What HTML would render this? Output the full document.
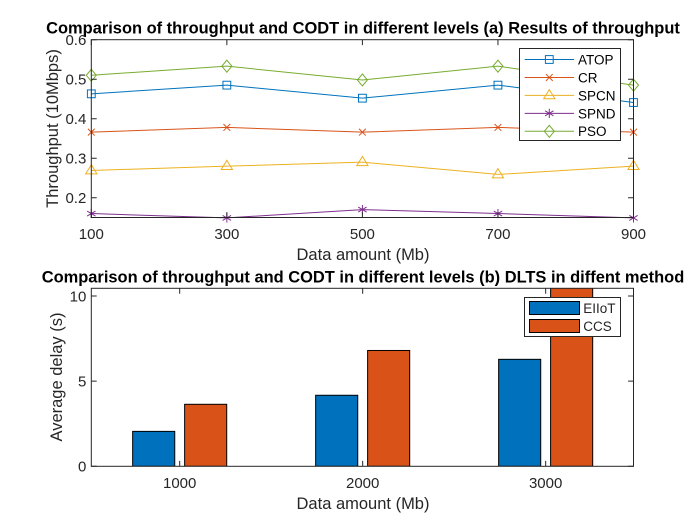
<!DOCTYPE html>
<html lang="en">
<head>
<meta charset="utf-8">
<title>Comparison of throughput and CODT</title>
<style>
html,body{margin:0;padding:0;background:#fff;}
body{width:700px;height:525px;overflow:hidden;}
svg{display:block;font-family:"Liberation Sans",Arial,sans-serif;}
</style>
</head>
<body>
<svg id="figure" xmlns="http://www.w3.org/2000/svg" width="700" height="525" viewBox="0 0 700 525">
  <defs>
    <clipPath id="bar-clip"><rect x="91.3" y="288.3" width="542.2" height="178"></rect></clipPath>
  </defs>
  <rect x="0" y="0" width="700" height="525" fill="#fff"></rect>
  <text x="363" y="33.5" text-anchor="middle" font-size="16.45" font-weight="bold" fill="#000">Comparison of throughput and CODT in different levels (a) Results of throughput</text>
  <text x="363" y="282.5" text-anchor="middle" font-size="16.45" font-weight="bold" fill="#000">Comparison of throughput and CODT in different levels (b) DLTS in diffent method</text>
  <text x="363" y="260" text-anchor="middle" font-size="16.5" fill="#262626">Data amount (Mb)</text>
  <text x="363" y="509" text-anchor="middle" font-size="16.5" fill="#262626">Data amount (Mb)</text>
  <text transform="translate(58,128.5) rotate(-90)" text-anchor="middle" font-size="16.5" fill="#262626">Throughput (10Mbps)</text>
  <text transform="translate(62,377) rotate(-90)" text-anchor="middle" font-size="16.5" fill="#262626">Average delay (s)</text>
  <g id="line-plot"></g>
  <g id="bar-plot"></g>
</svg>
<script>
var lineCategories = [100, 300, 500, 700, 900];
var lineYTicks = [0.2, 0.3, 0.4, 0.5, 0.6];
var atopValues = [0.463, 0.485, 0.452, 0.485, 0.441];
var crValues = [0.366, 0.378, 0.366, 0.378, 0.366];
var spcnValues = [0.269, 0.28, 0.29, 0.259, 0.28];
var spndValues = [0.16, 0.149, 0.17, 0.16, 0.149];
var psoValues = [0.51, 0.533, 0.498, 0.533, 0.485];
var lineSeriesNames = ['ATOP', 'CR', 'SPCN', 'SPND', 'PSO'];

var barCategories = [1000, 2000, 3000];
var barYTicks = [0, 5, 10];
var elliotValues = [2.05, 4.17, 6.28];
var ccsValues = [3.64, 6.8, 11];
var barSeriesNames = ['EIIoT', 'CCS'];

var NS = 'http://www.w3.org/2000/svg';
var lineRoot = document.getElementById('line-plot');
var barRoot = document.getElementById('bar-plot');
var AXIS = '#262626';

function make(parent, tag, attrs) {
  var el = document.createElementNS(NS, tag);
  for (var k in attrs) { el.setAttribute(k, attrs[k]); }
  parent.appendChild(el);
  return el;
}

var lineBox = { left: 91.3, right: 633.5, top: 39.7, bottom: 217.5 };
var barBox = { left: 91.3, right: 633.5, top: 288.3, bottom: 466.3 };
var lineXMin = 100, lineXMax = 900, lineYMin = 0.15, lineYMax = 0.6;
var barXMin = 0.517, barXMax = 3.48, barYMin = 0, barYMax = 10.45;

function lineX(v) { return lineBox.left + (v - lineXMin) / (lineXMax - lineXMin) * (lineBox.right - lineBox.left); }
function lineY(v) { return lineBox.bottom - (v - lineYMin) / (lineYMax - lineYMin) * (lineBox.bottom - lineBox.top); }
function barX(v) { return barBox.left + (v - barXMin) / (barXMax - barXMin) * (barBox.right - barBox.left); }
function barY(v) { return barBox.bottom - (v - barYMin) / (barYMax - barYMin) * (barBox.bottom - barBox.top); }

function drawMarker(parent, kind, x, y, color) {
  var g = make(parent, 'g', { fill: 'none', stroke: color, 'stroke-width': 1 });
  if (kind === 'square') {
    make(g, 'rect', { x: x - 3.9, y: y - 3.9, width: 7.8, height: 7.8 });
  } else if (kind === 'x') {
    make(g, 'path', { d: 'M' + (x - 3.4) + ' ' + (y - 3.4) + 'L' + (x + 3.4) + ' ' + (y + 3.4) + 'M' + (x - 3.4) + ' ' + (y + 3.4) + 'L' + (x + 3.4) + ' ' + (y - 3.4) });
  } else if (kind === 'triangle') {
    make(g, 'path', { d: 'M' + x + ' ' + (y - 5.8) + 'L' + (x + 5.6) + ' ' + (y + 3.4) + 'L' + (x - 5.6) + ' ' + (y + 3.4) + 'Z' });
  } else if (kind === 'star') {
    make(g, 'path', { d: 'M' + x + ' ' + (y - 4.6) + 'V' + (y + 4.6) + 'M' + (x - 4.2) + ' ' + (y - 2.5) + 'L' + (x + 4.2) + ' ' + (y + 2.5) + 'M' + (x - 4.2) + ' ' + (y + 2.5) + 'L' + (x + 4.2) + ' ' + (y - 2.5) });
  } else if (kind === 'diamond') {
    make(g, 'path', { d: 'M' + x + ' ' + (y - 6) + 'L' + (x + 5) + ' ' + y + 'L' + x + ' ' + (y + 6) + 'L' + (x - 5) + ' ' + y + 'Z' });
  }
  return g;
}

function drawAxes(root, box, xTicks, xFn, yTicks, yFn, xPrefix, yDecimals) {
  var frame = make(root, 'rect', { x: box.left, y: box.top, width: box.right - box.left, height: box.bottom - box.top, fill: 'none', stroke: AXIS, 'stroke-width': 1 });
  
  
  xTicks.forEach(function (t) {
    var x = xFn(t);
    make(root, 'path', { d: 'M' + x + ' ' + box.bottom + 'v-5.4M' + x + ' ' + box.top + 'v5.4', stroke: AXIS, 'stroke-width': 1, fill: 'none' });
    var label = make(root, 'text', { x: x, y: box.bottom + 21.5, 'text-anchor': 'middle', 'font-size': 15, fill: AXIS });
    
    
    label.textContent = String(t);
  });
  yTicks.forEach(function (t) {
    var y = yFn(t);
    make(root, 'path', { d: 'M' + box.left + ' ' + y + 'h5.4M' + box.right + ' ' + y + 'h-5.4', stroke: AXIS, 'stroke-width': 1, fill: 'none' });
    var label = make(root, 'text', { x: box.left - 5, y: y + 5.3, 'text-anchor': 'end', 'font-size': 15, fill: AXIS });
    
    
    label.textContent = t.toFixed(yDecimals);
  });
}

/* Line chart */
var lineSeries = [
  { values: atopValues, color: '#0072BD', marker: 'square' },
  { values: crValues, color: '#D95319', marker: 'x' },
  { values: spcnValues, color: '#EDB120', marker: 'triangle' },
  { values: spndValues, color: '#7E2F8E', marker: 'star' },
  { values: psoValues, color: '#77AC30', marker: 'diamond' }
];

lineSeries.forEach(function (s, i) {
  var group = make(lineRoot, 'g', {});
  
  
  var pts = s.values.map(function (v, j) { return lineX(lineCategories[j]) + ',' + lineY(v); }).join(' ');
  make(group, 'polyline', { points: pts, fill: 'none', stroke: s.color, 'stroke-width': 1 });
  s.values.forEach(function (v, j) {
    drawMarker(group, s.marker, lineX(lineCategories[j]), lineY(v), s.color);
  });
});

drawAxes(lineRoot, lineBox, lineCategories, lineX, lineYTicks, lineY, 'throughput', 1);

var lineLegend = make(lineRoot, 'g', {});


make(lineLegend, 'rect', { x: 519.5, y: 48.5, width: 101, height: 92, fill: '#fff', stroke: AXIS, 'stroke-width': 1 });
lineSeries.forEach(function (s, i) {
  var rowY = 59.5 + i * 17.95;
  var entry = make(lineLegend, 'g', {});
  
  
  make(entry, 'line', { x1: 524.7, x2: 574, y1: rowY, y2: rowY, stroke: s.color, 'stroke-width': 1 });
  drawMarker(entry, s.marker, 549.3, rowY, s.color);
  var t = make(entry, 'text', { x: 578, y: rowY + 4.9, 'font-size': 13.5, fill: '#000' });
  t.textContent = lineSeriesNames[i];
});

/* Bar chart */
var BAR_WIDTH = 0.23, BAR_OFFSET = 0.142;
var barSeries = [
  { values: elliotValues, color: '#0072BD', shift: -BAR_OFFSET },
  { values: ccsValues, color: '#D95319', shift: BAR_OFFSET }
];
var barLayer = make(barRoot, 'g', { 'clip-path': 'url(#bar-clip)' });
barSeries.forEach(function (s, i) {
  s.values.forEach(function (v, j) {
    var center = j + 1 + s.shift;
    var x0 = barX(center - BAR_WIDTH / 2);
    var x1 = barX(center + BAR_WIDTH / 2);
    var bar = make(barLayer, 'rect', { x: x0, y: barY(v), width: x1 - x0, height: barY(0) - barY(v), fill: s.color, stroke: '#000', 'stroke-width': 1 });
    
    
  });
});

drawAxes(barRoot, barBox, barCategories, function (c) { return barX(barCategories.indexOf(c) + 1); }, barYTicks, barY, 'delay', 0);

var barLegend = make(barRoot, 'g', {});


make(barLegend, 'rect', { x: 524.5, y: 297.5, width: 96, height: 39, fill: '#fff', stroke: AXIS, 'stroke-width': 1 });
barSeries.forEach(function (s, i) {
  var top = 301.5 + i * 18;
  var entry = make(barLegend, 'g', {});
  
  
  make(entry, 'rect', { x: 529.5, y: top, width: 50, height: 13, fill: s.color, stroke: '#000', 'stroke-width': 1 });
  var t = make(entry, 'text', { x: 583.3, y: top + 11.3, 'font-size': 13.5, fill: '#262626' });
  t.textContent = barSeriesNames[i];
});
</script>
</body>
</html>
